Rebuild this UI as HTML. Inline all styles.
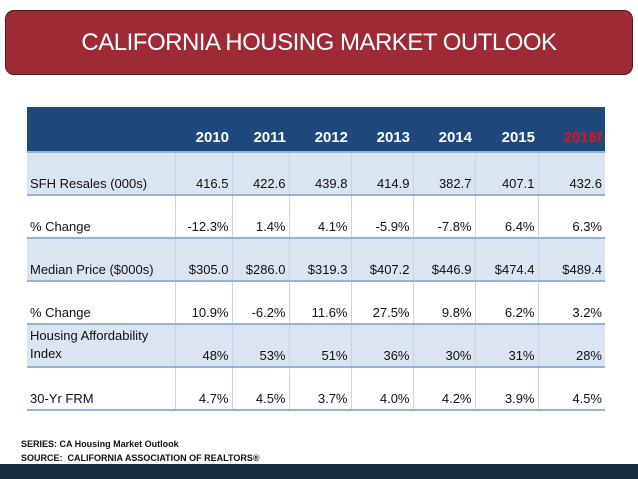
<!DOCTYPE html>
<html><head><meta charset="utf-8"><style>
body{margin:0;width:638px;height:479px;background:#fff;position:relative;overflow:hidden;font-family:"Liberation Sans",sans-serif}
#title{position:absolute;left:5px;top:10px;width:626px;height:63px;background:#9e2a36;border:1px solid #4a1a1f;border-radius:9px;color:#fff;font-size:24px;text-align:center;line-height:63px;letter-spacing:-0.5px}
table{position:absolute;left:27px;top:107px;border-collapse:collapse;width:578px;font-size:13px;color:#111}
td{height:38px;padding:0 3px 3px 3px;vertical-align:bottom;text-align:right;border-left:1px solid #c5d4e8;border-top:2px solid #95b3d7;line-height:15px}
td.l{text-align:left;border-left:none}
tr.h td{background:#1f497d;color:#fff;font-weight:bold;font-size:15px;border:none;padding-bottom:6px}
tr.a td{background:#dbe5f1}
#foot{position:absolute;left:21px;top:437px;font-size:9px;font-weight:bold;line-height:14px;color:#111}
#bar{position:absolute;left:0;top:464px;width:638px;height:15px;background:#162d40}
</style></head><body>
<div id="title">CALIFORNIA HOUSING MARKET OUTLOOK</div>
<table>
<colgroup><col style="width:148px"><col style="width:57px"><col style="width:57px"><col style="width:62px"><col style="width:62px"><col style="width:62px"><col style="width:63px"><col style="width:67px"></colgroup>
<tr class="h"><td class="l"></td><td>2010</td><td>2011</td><td>2012</td><td>2013</td><td>2014</td><td>2015</td><td style="color:#e0141e">2016f</td></tr>
<tr class="a"><td class="l">SFH Resales (000s)</td><td>416.5</td><td>422.6</td><td>439.8</td><td>414.9</td><td>382.7</td><td>407.1</td><td>432.6</td></tr>
<tr><td class="l">% Change</td><td>-12.3%</td><td>1.4%</td><td>4.1%</td><td>-5.9%</td><td>-7.8%</td><td>6.4%</td><td>6.3%</td></tr>
<tr class="a"><td class="l">Median Price ($000s)</td><td>$305.0</td><td>$286.0</td><td>$319.3</td><td>$407.2</td><td>$446.9</td><td>$474.4</td><td>$489.4</td></tr>
<tr><td class="l">% Change</td><td>10.9%</td><td>-6.2%</td><td>11.6%</td><td>27.5%</td><td>9.8%</td><td>6.2%</td><td>3.2%</td></tr>
<tr class="a"><td class="l" style="line-height:18px">Housing Affordability<br>Index</td><td>48%</td><td>53%</td><td>51%</td><td>36%</td><td>30%</td><td>31%</td><td>28%</td></tr>
<tr><td class="l" style="border-bottom:2px solid #95b3d7">30-Yr FRM</td><td style="border-bottom:2px solid #95b3d7">4.7%</td><td style="border-bottom:2px solid #95b3d7">4.5%</td><td style="border-bottom:2px solid #95b3d7">3.7%</td><td style="border-bottom:2px solid #95b3d7">4.0%</td><td style="border-bottom:2px solid #95b3d7">4.2%</td><td style="border-bottom:2px solid #95b3d7">3.9%</td><td style="border-bottom:2px solid #95b3d7">4.5%</td></tr>
</table>
<div id="foot">SERIES: CA Housing Market Outlook<br>SOURCE:&nbsp; CALIFORNIA ASSOCIATION OF REALTORS®</div>
<div id="bar"></div>
</body></html>
